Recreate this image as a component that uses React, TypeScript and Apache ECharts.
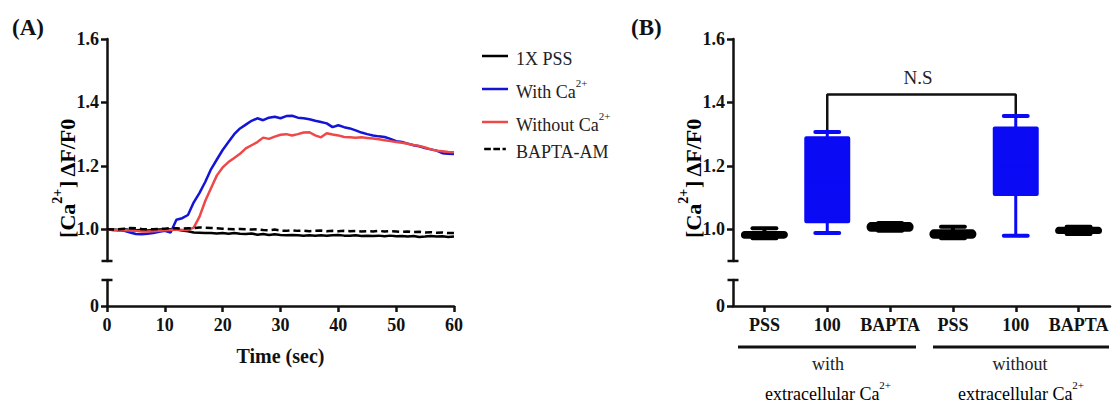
import React, { useEffect, useRef } from "react";
import * as echarts from "echarts";

// ---------- Panel A data (time course) ----------
const timeSec = [
  0, 1, 2, 3, 4, 5, 6, 7, 8, 9, 10, 11, 12, 13, 14, 15, 16, 17, 18, 19, 20,
  21, 22, 23, 24, 25, 26, 27, 28, 29, 30, 31, 32, 33, 34, 35, 36, 37, 38, 39, 40,
  41, 42, 43, 44, 45, 46, 47, 48, 49, 50, 51, 52, 53, 54, 55, 56, 57, 58, 59, 60,
];
const pssTrace = [
  1.0, 0.999, 0.998, 1.0, 0.998, 0.997, 0.998, 0.996, 0.998, 0.999, 1.0,
  1.0, 0.999, 0.996, 0.994, 0.99, 0.989, 0.988, 0.988, 0.987, 0.988,
  0.986, 0.988, 0.986, 0.985, 0.987, 0.983, 0.985, 0.982, 0.984, 0.982,
  0.981, 0.982, 0.981, 0.98, 0.981, 0.98, 0.981, 0.98, 0.981, 0.982,
  0.98, 0.98, 0.981, 0.979, 0.98, 0.979, 0.98, 0.978, 0.98, 0.978,
  0.979, 0.977, 0.979, 0.976, 0.977, 0.979, 0.977, 0.978, 0.976, 0.977,
];
const withCaTrace = [
  1.0, 0.998, 0.997, 0.995, 0.99, 0.985, 0.984, 0.986, 0.988, 0.992, 0.995,
  0.99, 1.03, 1.035, 1.045, 1.085, 1.115, 1.15, 1.19, 1.22, 1.25,
  1.275, 1.3, 1.318, 1.33, 1.342, 1.35, 1.344, 1.352, 1.355, 1.35,
  1.357, 1.358, 1.352, 1.35, 1.347, 1.342, 1.338, 1.334, 1.322, 1.328,
  1.322, 1.318, 1.312, 1.305, 1.3, 1.296, 1.293, 1.291, 1.285, 1.278,
  1.275, 1.27, 1.265, 1.262, 1.256, 1.252, 1.248, 1.24, 1.238, 1.237,
];
const withoutCaTrace = [
  1.0, 0.998, 0.997, 0.997, 0.996, 0.995, 0.993, 0.993, 0.994, 0.995, 0.997,
  0.998, 0.999, 0.998, 0.998, 1.005, 1.04, 1.09, 1.13, 1.17, 1.195,
  1.212, 1.225, 1.238, 1.255, 1.265, 1.275, 1.289, 1.285, 1.292, 1.298,
  1.3, 1.296, 1.3, 1.305, 1.306, 1.296, 1.29, 1.303, 1.299, 1.296,
  1.291, 1.29, 1.289, 1.29, 1.288, 1.286, 1.284, 1.281, 1.278, 1.275,
  1.273, 1.27, 1.266, 1.263, 1.258, 1.252, 1.248, 1.246, 1.244, 1.243,
];
const baptaTrace = [
  1.0, 0.999, 1.0, 1.002, 1.004, 1.003, 1.001, 1.0, 1.0, 1.001, 1.002,
  1.004, 1.003, 1.002, 1.003, 1.004, 1.006, 1.005, 1.004, 1.003, 1.002,
  1.001, 1.0, 1.001, 1.0, 0.999, 1.0, 0.998, 0.997, 0.999, 0.996,
  0.995, 0.997, 0.995, 0.996, 0.994, 0.995, 0.996, 0.994, 0.995, 0.994,
  0.995, 0.994, 0.995, 0.993, 0.994, 0.993, 0.995, 0.993, 0.994, 0.993,
  0.992, 0.993, 0.991, 0.992, 0.99, 0.991, 0.989, 0.99, 0.988, 0.988,
];
const traceNames = ["1X PSS", "With Ca2+", "Without Ca2+", "BAPTA-AM"];

// ---------- Panel B data (box plots) ----------
const boxCategories = ["PSS", "100", "BAPTA", "PSS", "100", "BAPTA"];
const boxMin = [0.972, 0.988, 0.995, 0.972, 0.98, 0.985];
const boxQ1 = [0.975, 1.022, 0.997, 0.975, 1.108, 0.99];
const boxMedian = [0.983, 1.15, 1.008, 0.985, 1.2, 0.996];
const boxQ3 = [0.99, 1.29, 1.018, 0.995, 1.321, 1.003];
const boxMax = [1.003, 1.307, 1.02, 1.008, 1.357, 1.008];
const boxIsTreated = [false, true, false, false, true, false];
const bracketLevel = 1.425;
const bracketFrom = 1;
const bracketTo = 4;

// ---------- axis ticks ----------
const upperTicks = [1.0, 1.2, 1.4, 1.6];
const lowerTicks = [0];

const SERIF = "Liberation Serif";
const AX = "#111";
const BLUE_LINE = "#1414d6";
const RED_LINE = "#ee4848";
const BLUE_BOX = "#0a0af5";

export default function App() {
  const ref = useRef<HTMLDivElement>(null);

  useEffect(() => {
    if (!ref.current) return;
    const chart = echarts.init(ref.current, null, { renderer: "svg" });

    const axisLine = (sym: string[]) => ({
      show: true,
      symbol: sym,
      symbolSize: [11, 2.5],
      lineStyle: { color: AX, width: 2.5 },
    });

    const upperY = (grid: number) => ({
      type: "value",
      gridIndex: grid,
      min: 0.9,
      max: 1.6,
      splitLine: { show: false },
      axisLine: axisLine(["rect", "none"]),
      axisTick: { show: true, length: 6, lineStyle: { color: AX, width: 2.5 }, customValues: upperTicks },
      axisLabel: {
        customValues: upperTicks,
        formatter: (v: number) => v.toFixed(1),
        fontFamily: SERIF,
        fontWeight: "bold",
        fontSize: 18,
        color: "#111",
        margin: 8,
      },
    });
    const lowerY = (grid: number) => ({
      type: "value",
      gridIndex: grid,
      min: 0,
      max: 1,
      splitLine: { show: false },
      axisLine: axisLine(["none", "rect"]),
      axisTick: { show: true, length: 6, lineStyle: { color: AX, width: 2.5 }, customValues: lowerTicks },
      axisLabel: {
        customValues: lowerTicks,
        formatter: (v: number) => String(v),
        fontFamily: SERIF,
        fontWeight: "bold",
        fontSize: 18,
        color: "#111",
        margin: 8,
      },
    });

    const boldLabel = {
      fontFamily: SERIF,
      fontWeight: "bold",
      fontSize: 18,
      color: "#111",
      margin: 10,
    };

    const lineSeries = (name: string, data: number[], color: string, dashed = false) => ({
      type: "line",
      name,
      xAxisIndex: 0,
      yAxisIndex: 0,
      symbol: "none",
      data: timeSec.map((t, i) => [t, data[i]]),
      lineStyle: { color, width: 2.5, type: dashed ? [7, 4] : "solid" },
      itemStyle: { color },
      z: dashed ? 3 : 2,
    });

    const supRich = (size: number, bold: boolean, color: string) => ({
      b: { fontFamily: SERIF, fontSize: size, fontWeight: bold ? "bold" : "normal", color, lineHeight: size + 6, verticalAlign: "bottom" },
      s: { fontFamily: SERIF, fontSize: Math.round(size * 0.62), fontWeight: bold ? "bold" : "normal", color, lineHeight: size + 6, verticalAlign: "top" },
    });

    const legendText: Record<string, string> = {
      "1X PSS": "{b|1X PSS}",
      "With Ca2+": "{b|With Ca}{s|2+}",
      "Without Ca2+": "{b|Without Ca}{s|2+}",
      "BAPTA-AM": "{b|BAPTA-AM}",
    };
    const dashIcon = "path://M0,0h8v3h-8z M11,0h8v3h-8z M22,0h4v3h-4z";

    const centered = { align: "center", verticalAlign: "middle", textAlign: "center", textVerticalAlign: "middle" };

    const option: any = {
      animation: false,
      backgroundColor: "#fff",
      grid: [
        { left: 107, top: 39, width: 347, height: 222 },
        { left: 107, top: 280, width: 347, height: 26 },
        { left: 733, top: 39, width: 377, height: 222 },
        { left: 733, top: 280, width: 377, height: 26 },
      ],
      legend: {
        orient: "vertical",
        left: 477,
        top: 45,
        itemWidth: 26,
        itemHeight: 2.5,
        itemGap: 9,
        data: [
          { name: traceNames[0], icon: "rect" },
          { name: traceNames[1], icon: "rect" },
          { name: traceNames[2], icon: "rect" },
          { name: traceNames[3], icon: dashIcon },
        ],
        formatter: (n: string) => legendText[n],
        textStyle: { padding: [0, 0, 0, 3], rich: supRich(18, false, "#222") },
      },
      xAxis: [
        { type: "value", gridIndex: 0, min: 0, max: 60, show: false },
        {
          type: "value",
          gridIndex: 1,
          min: 0,
          max: 60,
          interval: 10,
          splitLine: { show: false },
          axisLine: { show: true, lineStyle: { color: AX, width: 2.5 } },
          axisTick: { show: true, length: 6, lineStyle: { color: AX, width: 2.5 } },
          axisLabel: boldLabel,
          name: "Time (sec)",
          nameLocation: "middle",
          nameGap: 40,
          nameTextStyle: { fontFamily: SERIF, fontWeight: "bold", fontSize: 20, color: "#111" },
        },
        { type: "category", gridIndex: 2, data: boxCategories, show: false, boundaryGap: true },
        {
          type: "category",
          gridIndex: 3,
          data: boxCategories,
          boundaryGap: true,
          axisLine: { show: true, lineStyle: { color: AX, width: 2.5 } },
          axisTick: { show: true, alignWithLabel: true, length: 6, lineStyle: { color: AX, width: 2.5 } },
          axisLabel: { ...boldLabel, interval: 0 },
        },
      ],
      yAxis: [upperY(0), lowerY(1), upperY(2), lowerY(3)],
      series: [
        lineSeries(traceNames[0], pssTrace, "#000"),
        lineSeries(traceNames[1], withCaTrace, BLUE_LINE),
        lineSeries(traceNames[2], withoutCaTrace, RED_LINE),
        lineSeries(traceNames[3], baptaTrace, "#000", true),
        {
          type: "custom",
          name: "box",
          xAxisIndex: 2,
          yAxisIndex: 2,
          data: boxCategories.map((_, i) => [i, boxMin[i], boxQ1[i], boxMedian[i], boxQ3[i], boxMax[i]]),
          encode: { x: 0, y: [1, 2, 3, 4, 5] },
          renderItem: (params: any, api: any) => {
            const i = api.value(0);
            const cx = api.coord([i, api.value(1)])[0];
            const yMin = api.coord([i, api.value(1)])[1];
            const yQ1 = api.coord([i, api.value(2)])[1];
            const yMed = api.coord([i, api.value(3)])[1];
            const yQ3 = api.coord([i, api.value(4)])[1];
            const yMax = api.coord([i, api.value(5)])[1];
            const band = api.size([1, 0])[0];
            const bw = band * 0.7;
            const cw = band * 0.38;
            const treated = boxIsTreated[params.dataIndex];
            const color = treated ? BLUE_BOX : "#000";
            const lw = treated ? 3 : 4;
            const ls = { stroke: color, lineWidth: lw, lineCap: "butt" };
            return {
              type: "group",
              children: [
                { type: "line", shape: { x1: cx, y1: yMax, x2: cx, y2: yQ3 }, style: ls },
                { type: "line", shape: { x1: cx, y1: yQ1, x2: cx, y2: yMin }, style: ls },
                { type: "line", shape: { x1: cx - cw / 2, y1: yMax, x2: cx + cw / 2, y2: yMax }, style: { ...ls, lineWidth: 4, lineCap: "round" } },
                { type: "line", shape: { x1: cx - cw / 2, y1: yMin, x2: cx + cw / 2, y2: yMin }, style: { ...ls, lineWidth: 4, lineCap: "round" } },
                {
                  type: "rect",
                  shape: { x: cx - bw / 2, y: yQ3, width: bw, height: Math.max(yQ1 - yQ3, 1), r: treated ? 1 : 3 },
                  style: { fill: color, stroke: color, lineWidth: treated ? 2 : 3, lineJoin: "round" },
                },
                { type: "line", shape: { x1: cx - bw / 2, y1: yMed, x2: cx + bw / 2, y2: yMed }, style: { stroke: color, lineWidth: 2 } },
              ],
            };
          },
          z: 3,
        },
        {
          type: "line",
          name: "bracket",
          xAxisIndex: 2,
          yAxisIndex: 2,
          symbol: "none",
          data: [
            [bracketFrom, boxMax[bracketFrom]],
            [bracketFrom, bracketLevel],
            [bracketTo, bracketLevel],
            [bracketTo, boxMax[bracketTo]],
          ],
          lineStyle: { color: "#111", width: 2.5 },
          z: 2,
        },
      ],
      graphic: [
        {
          type: "text",
          left: 12,
          top: 16,
          style: { text: "(A)", fontFamily: SERIF, fontWeight: "bold", fontSize: 23, fill: "#111" },
        },
        {
          type: "text",
          left: 631,
          top: 16,
          style: { text: "(B)", fontFamily: SERIF, fontWeight: "bold", fontSize: 23, fill: "#111" },
        },
        {
          type: "text",
          x: 64,
          y: 178,
          rotation: Math.PI / 2,
          style: { text: "{b|[Ca}{s|2+}{b|] ΔF/F0}", ...centered, rich: supRich(22, true, "#111") },
        },
        {
          type: "text",
          x: 690,
          y: 178,
          rotation: Math.PI / 2,
          style: { text: "{b|[Ca}{s|2+}{b|] ΔF/F0}", ...centered, rich: supRich(22, true, "#111") },
        },
        {
          type: "text",
          x: 918,
          y: 77,
          style: { text: "N.S", fontFamily: SERIF, fontSize: 19, fill: "#222", ...centered },
        },
        { type: "line", shape: { x1: 738, y1: 347, x2: 916, y2: 347 }, style: { stroke: "#111", lineWidth: 3 } },
        { type: "line", shape: { x1: 933, y1: 347, x2: 1109, y2: 347 }, style: { stroke: "#111", lineWidth: 3 } },
        {
          type: "text",
          x: 828,
          y: 364,
          style: { text: "with", fontFamily: SERIF, fontSize: 18, fill: "#222", ...centered },
        },
        {
          type: "text",
          x: 1020,
          y: 364,
          style: { text: "without", fontFamily: SERIF, fontSize: 18, fill: "#222", ...centered },
        },
        {
          type: "text",
          x: 828,
          y: 391,
          style: { text: "{b|extracellular Ca}{s|2+}", rich: supRich(18, false, "#222"), ...centered },
        },
        {
          type: "text",
          x: 1021,
          y: 391,
          style: { text: "{b|extracellular Ca}{s|2+}", rich: supRich(18, false, "#222"), ...centered },
        },
      ],
    };

    chart.setOption(option);
    return () => chart.dispose();
  }, []);

  return <div ref={ref} style={{ width: 1117, height: 403, position: "absolute", left: 0, top: 0 }} />;
}
